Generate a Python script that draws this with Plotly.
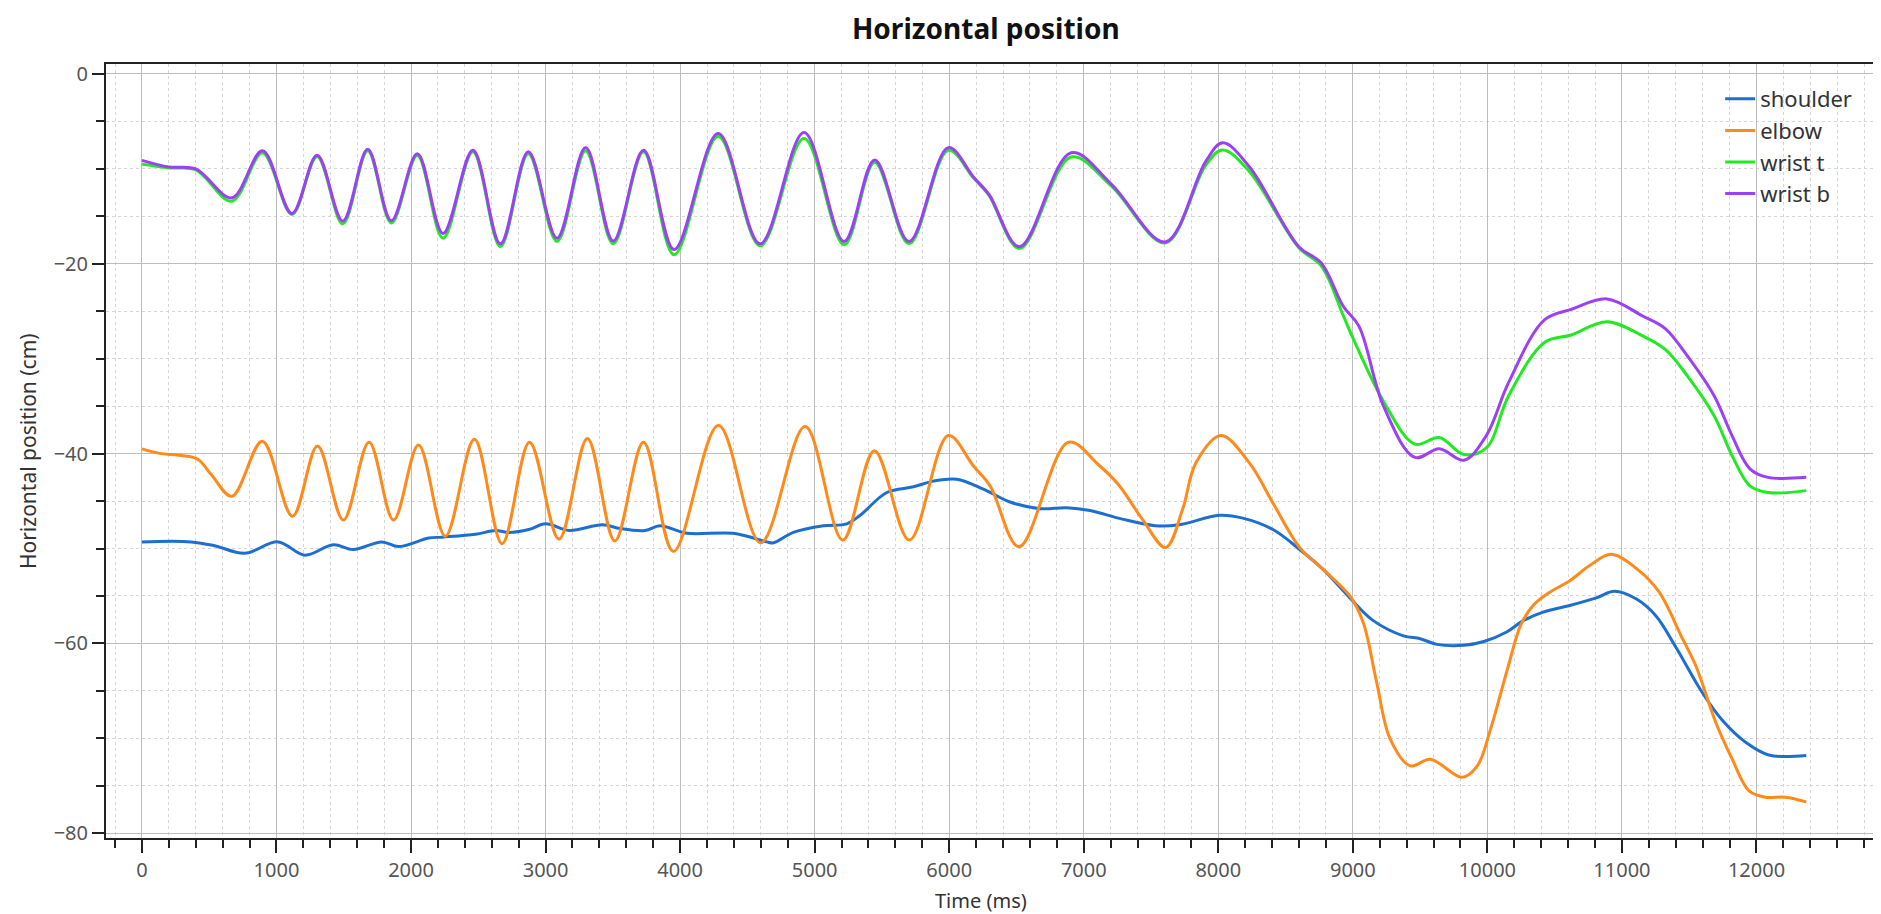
import plotly.graph_objects as go

# ---- data (time in ms, horizontal position in cm) ----
shoulder_t = [0, 365, 540, 763, 1012, 1211, 1422, 1571, 1782, 1907, 2131, 2230, 2479, 2628, 2727, 2876,
              3001, 3175, 3423, 3554, 3740, 3851, 4050, 4396, 4644, 4694, 4842, 5065, 5238, 5338, 5536,
              5734, 5883, 6056, 6254, 6452, 6675, 6873, 7047, 7286, 7534, 7709, 8007, 8182, 8406, 8605,
              8779, 8978, 9152, 9376, 9501, 9625, 9825, 9974, 10143, 10266, 10414, 10612, 10809, 10944,
              11105, 11253, 11401, 11598, 11746, 11918, 12091, 12370]
shoulder_v = [-49.3, -49.3, -49.7, -50.5, -49.3, -50.7, -49.6, -50.1, -49.3, -49.8, -48.9, -48.8, -48.5, -48.1,
              -48.3, -48.0, -47.4, -48.1, -47.5, -47.9, -48.1, -47.6, -48.4, -48.4, -49.3, -49.4, -48.3,
              -47.6, -47.4, -46.5, -44.1, -43.5, -42.9, -42.7, -43.75, -45.1, -45.8, -45.7, -46.0, -46.9,
              -47.6, -47.5, -46.5, -46.8, -48.0, -50.1, -52.2, -55.2, -57.6, -59.2, -59.5, -60.1, -60.2,
              -59.8, -58.8, -57.6, -56.7, -56.0, -55.2, -54.5, -55.3, -57.1, -60.4, -65.2, -68.1, -70.4,
              -71.75, -71.8]

elbow_t = [0, 142, 291, 415, 515, 669, 895, 1119, 1305, 1497, 1688, 1870, 2056, 2255, 2471, 2677, 2881,
           3100, 3311, 3515, 3728, 3950, 4285, 4599, 4929, 5209, 5444, 5704, 5994, 6180, 6304, 6519,
           6887, 7111, 7260, 7435, 7609, 7734, 7833, 8020, 8232, 8406, 8605, 8779, 8978, 9077, 9177,
           9277, 9426, 9576, 9813, 9925, 10024, 10149, 10250, 10340, 10464, 10612, 10760, 10920, 11129,
           11277, 11450, 11549, 11697, 11820, 11943, 12066, 12214, 12370]
elbow_v = [-39.5, -40.0, -40.2, -40.6, -42.2, -44.5, -38.7, -46.6, -39.2, -47.0, -38.8, -47.0, -39.1, -48.7,
           -38.5, -49.5, -38.8, -49.0, -38.4, -49.2, -38.8, -50.3, -37.05, -49.4, -37.15, -49.1, -39.7,
           -49.1, -38.1, -41.3, -43.4, -49.8, -38.8, -41.2, -43.3, -46.9, -49.9, -45.9, -41.0, -38.1,
           -41.0, -45.2, -49.9, -52.2, -55.0, -57.8, -64.1, -70.05, -72.9, -72.2, -74.1, -72.9, -69.0,
           -62.7, -58.0, -56.0, -54.6, -53.4, -51.8, -50.6, -52.35, -54.6, -59.5, -62.35, -68.3, -72.2,
           -75.5, -76.2, -76.2, -76.7]

wrist_t_t = [0, 200, 400, 668, 896, 1115, 1302, 1493, 1678, 1854, 2047, 2238, 2460, 2664, 2872, 3085,
             3298, 3503, 3728, 3955, 4283, 4595, 4921, 5219, 5446, 5701, 5993, 6183, 6296, 6523, 6906,
             7204, 7606, 7907, 8033, 8232, 8598, 8764, 8930, 9000, 9228, 9461, 9643, 9826, 9992, 10158,
             10424, 10623, 10888, 11154, 11320, 11486, 11685, 11818, 11951, 12084, 12370]
wrist_t_v = [-9.5, -9.9, -10.1, -13.4, -8.3, -14.8, -8.7, -15.8, -8.1, -15.7, -8.6, -17.3, -8.2, -18.2,
             -8.4, -17.65, -8.1, -17.9, -8.2, -19.06, -6.6, -18.1, -6.8, -18.0, -9.3, -17.9, -8.04, -11.0,
             -12.8, -18.4, -8.75, -11.8, -17.8, -9.6, -8.0, -10.3, -18.3, -20.2, -25.5, -27.8, -34.5,
             -39.0, -38.3, -40.1, -39.4, -33.9, -28.3, -27.5, -26.1, -27.6, -29.0, -31.8, -36.0, -40.2,
             -43.4, -44.1, -43.9]

wrist_b_t = [0, 200, 400, 668, 896, 1115, 1302, 1493, 1678, 1854, 2047, 2238, 2460, 2664, 2872, 3085,
             3298, 3503, 3728, 3955, 4283, 4595, 4921, 5219, 5446, 5701, 5993, 6183, 6296, 6523, 6906,
             7204, 7606, 7907, 8033, 8232, 8598, 8764, 8930, 9046, 9228, 9461, 9643, 9826, 9992, 10158,
             10424, 10623, 10888, 11154, 11320, 11486, 11685, 11818, 11951, 12084, 12370]
wrist_b_v = [-9.1, -9.8, -10.0, -13.05, -8.1, -14.7, -8.57, -15.5, -7.93, -15.46, -8.4, -16.8, -8.04, -17.9,
             -8.2, -17.3, -7.76, -17.6, -8.04, -18.5, -6.27, -17.9, -6.17, -17.65, -9.06, -17.65, -7.76,
             -10.9, -12.7, -18.2, -8.3, -11.6, -17.7, -9.2, -7.25, -9.8, -18.2, -19.9, -24.5, -26.6, -35.0,
             -40.4, -39.5, -40.7, -38.1, -32.5, -25.9, -24.8, -23.7, -25.5, -26.8, -29.7, -33.9, -38.1,
             -41.6, -42.5, -42.5]

series = [
    ("shoulder", shoulder_t, shoulder_v, "#1c6fd1"),
    ("elbow", elbow_t, elbow_v, "#ff8a1c"),
    ("wrist t", wrist_t_t, wrist_t_v, "#22ea22"),
    ("wrist b", wrist_b_t, wrist_b_v, "#9b40f5"),
]

FONT = "Noto Sans"

fig = go.Figure()
for name, t, v, c in series:
    fig.add_trace(go.Scatter(x=t, y=v, name=name, mode="lines",
                             line=dict(color=c, width=3, shape="spline", smoothing=1.0)))

W, H = 1881, 914
L, T, R, B = 98, 56, 0, 84
pw = W - L - R
ph = H - T - B

fig.update_layout(
    width=W, height=H,
    margin=dict(l=L, r=R, t=T, b=B, pad=0),
    paper_bgcolor="white", plot_bgcolor="white",
    font=dict(family=FONT, size=20, color="#333333"),
    title=dict(text="Horizontal position", x=0.494, xref="paper", xanchor="center",
               y=1 - 21 / H, yref="container", yanchor="middle",
               font=dict(family=FONT, size=28, color="#111111", weight=700)),
    showlegend=True,
    legend=dict(x=(1714 - L) / pw, y=1 - (70 - T) / ph, xanchor="left", yanchor="top",
                bgcolor="rgba(0,0,0,0)", borderwidth=0,
                font=dict(family=FONT, size=22, color="#333333"),
                itemwidth=30, tracegroupgap=0),
    xaxis=dict(range=[-267, 12970], dtick=1000, tick0=0, tickformat="d",
               showline=True, linecolor="#222222", linewidth=2, mirror=True,
               ticks="outside", ticklen=13, tickwidth=2, tickcolor="#222222",
               showgrid=True, gridcolor="#bdbdbd", gridwidth=1.2,
               tickfont=dict(family=FONT, size=20, color="#555555"),
               zeroline=False,
               minor=dict(dtick=200, tick0=0, ticks="outside", ticklen=8, tickwidth=2, tickcolor="#222222",
                          showgrid=True, gridcolor="#d6d6d6", griddash="dot", gridwidth=1)),
    yaxis=dict(range=[-80.5, 1.05], dtick=20, tick0=0, tickformat="d",
               showline=True, linecolor="#222222", linewidth=2, mirror=True,
               ticks="outside", ticklen=12, tickwidth=2, tickcolor="#222222",
               showgrid=True, gridcolor="#bdbdbd", gridwidth=1.2,
               tickfont=dict(family=FONT, size=20, color="#555555"),
               zeroline=False,
               minor=dict(dtick=5, tick0=0, ticks="outside", ticklen=8, tickwidth=2, tickcolor="#222222",
                          showgrid=True, gridcolor="#d6d6d6", griddash="dot", gridwidth=1)),
    annotations=[
        dict(text="Time (ms)", xref="paper", yref="paper", x=(974 - L) / pw, y=-(893 - (T + ph)) / ph,
             xanchor="center", yanchor="middle", showarrow=False,
             font=dict(family=FONT, size=20, color="#333333")),
        dict(text="Horizontal position (cm)", xref="paper", yref="paper", x=-(L - 20) / pw, y=0.5,
             xanchor="center", yanchor="middle", textangle=-90, showarrow=False,
             font=dict(family=FONT, size=21, color="#333333")),
    ],
)

fig.write_html("out.html")
